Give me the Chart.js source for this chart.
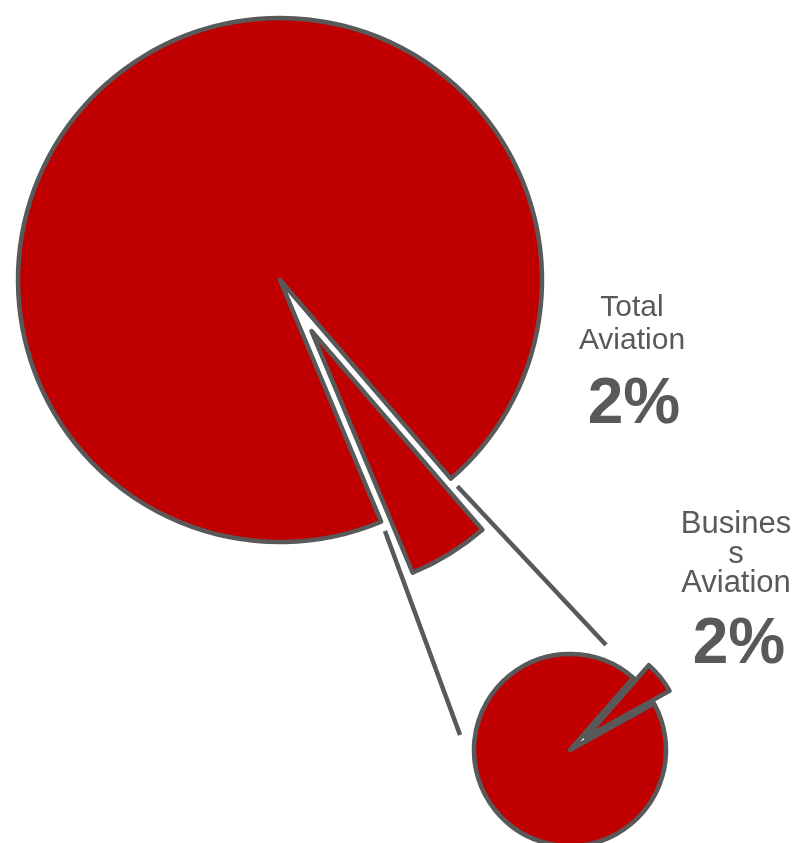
<!DOCTYPE html>
<html>
<head>
<meta charset="utf-8">
<title>Total vs Business Aviation</title>
<script src="https://cdn.jsdelivr.net/npm/chart.js@4.4.1/dist/chart.umd.min.js"></script>
<style>
  html, body { margin: 0; padding: 0; background: #fff; }
  #wrap { position: relative; width: 809px; height: 843px; overflow: hidden; }
  #wrap canvas { position: absolute; left: 0; top: 0; }
  .lbl {
    position: absolute; width: 220px; text-align: center;
    font-family: "Liberation Sans", Arial, sans-serif; color: #595959;
  }
  .pct { font-weight: bold; }
</style>
</head>
<body>
<div id="wrap">
  <canvas id="bigRest" width="809" height="843"></canvas>
  <canvas id="bigSlice" width="809" height="843"></canvas>
  <canvas id="smallRest" width="809" height="843"></canvas>
  <canvas id="smallSlice" width="809" height="843"></canvas>
  <div class="lbl" id="name0"></div>
  <div class="lbl pct" id="pct0"></div>
  <div class="lbl" id="name1"></div>
  <div class="lbl pct" id="pct1"></div>
</div>
<script>
// data
const pieNames = ['Total Aviation', 'Business Aviation'];
const nameLines = [['Total', 'Aviation'], ['Busines', 's', 'Aviation']];
const shownPercents = [2, 2];
// shares as drawn: highlighted slice first, then the rest
const totalAviationShares = [5, 95];
const businessAviationShares = [5.5, 94.5];

const W = 809, H = 843;
const RED = '#C00000';
const GREY = '#595959';
const LINE_W = 4.5;

// layout of the two pies
const big = { cx: 280, cy: 280, r: 262, rotation: 139.3, explode: 60 };
const small = { cx: 570, cy: 750, r: 96, rotation: 41.2, explode: 20 };

// where the slice sits (bisector angle, radians)
function sliceMid(shares, rotation) {
    const total = shares.reduce((a, b) => a + b, 0);
    const start = (rotation - 90) * Math.PI / 180;
    return start + (shares[0] / total) * Math.PI;
}

function makePie(id, shares, geo, showIndex, shift, extraPlugins) {
    const mid = sliceMid(shares, geo.rotation);
    const cx = geo.cx + (shift ? Math.cos(mid) * geo.explode : 0);
    const cy = geo.cy + (shift ? Math.sin(mid) * geo.explode : 0);
    const h = 4;
    return new Chart(document.getElementById(id), {
        type: 'pie',
        data: {
            labels: ['slice', 'rest'],
            datasets: [{
                data: shares,
                backgroundColor: shares.map((v, i) => i === showIndex ? RED : 'rgba(0,0,0,0)'),
                borderColor: GREY,
                borderWidth: shares.map((v, i) => i === showIndex ? LINE_W : 0),
                borderJoinStyle: 'round',
                clip: false
            }]
        },
        options: {
            responsive: false,
            animation: false,
            events: [],
            rotation: geo.rotation,
            radius: geo.r,
            layout: {
                padding: { left: cx - h, right: W - cx - h, top: cy - h, bottom: H - cy - h }
            },
            plugins: {
                legend: { display: false },
                tooltip: { enabled: false }
            }
        },
        plugins: extraPlugins || []
    });
}

const bigRestChart = makePie('bigRest', totalAviationShares, big, 1, false);
makePie('bigSlice', totalAviationShares, big, 0, true);

// connector lines from the cut-out edges of the big pie, tangent to the small pie
const connectorPlugin = {
    id: 'connectors',
    beforeDatasetsDraw(chart) {
        const arc = bigRestChart.getDatasetMeta(0).data[0];
        const sm = chart.getDatasetMeta(0).data[1];
        const ctx = chart.ctx;
        const startGap = 10, trim = 52, rho = sm.outerRadius + 2;
        ctx.save();
        ctx.strokeStyle = GREY;
        ctx.lineWidth = LINE_W;
        [[arc.startAngle, -1], [arc.endAngle, 1]].forEach(([a, side]) => {
            const px = arc.x + Math.cos(a) * (arc.outerRadius + startGap);
            const py = arc.y + Math.sin(a) * (arc.outerRadius + startGap);
            const dx = sm.x - px, dy = sm.y - py;
            const d = Math.hypot(dx, dy);
            const ang = Math.atan2(dy, dx) + side * Math.asin(rho / d);
            const len = Math.sqrt(d * d - rho * rho) - trim;
            ctx.beginPath();
            ctx.moveTo(px, py);
            ctx.lineTo(px + Math.cos(ang) * len, py + Math.sin(ang) * len);
            ctx.stroke();
        });
        ctx.restore();
    }
};

makePie('smallRest', businessAviationShares, small, 1, false, [connectorPlugin]);
makePie('smallSlice', businessAviationShares, small, 0, true);

// labels
const labelSpots = [
    { cx: 632, nameTop: 289, size: 30, lh: 33, pctTop: 369, pctCx: 634 },
    { cx: 736, nameTop: 508, size: 31, lh: 29.5, pctTop: 609, pctCx: 739 }
];
pieNames.forEach((name, i) => {
    const s = labelSpots[i];
    const n = document.getElementById('name' + i);
    n.innerHTML = nameLines[i].join('<br>');
    n.title = name;
    n.style.left = (s.cx - 110) + 'px';
    n.style.top = s.nameTop + 'px';
    n.style.fontSize = s.size + 'px';
    n.style.lineHeight = s.lh + 'px';
    const p = document.getElementById('pct' + i);
    p.textContent = shownPercents[i] + '%';
    p.style.left = (s.pctCx - 110) + 'px';
    p.style.top = s.pctTop + 'px';
    p.style.fontSize = '64px';
    p.style.lineHeight = '64px';
});
</script>
</body>
</html>
